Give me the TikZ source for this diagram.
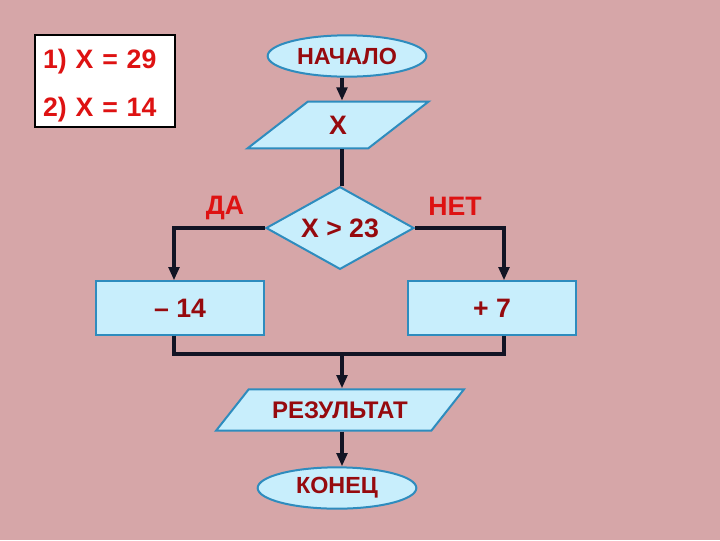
\documentclass[tikz,border=0pt]{standalone}
\usepackage{fontspec}
\setmainfont{Liberation Sans}
\usepackage{xcolor}
\usetikzlibrary{shapes.geometric, positioning, arrows.meta}
\definecolor{bgpink}{RGB}{214, 166, 168}
\definecolor{cellfill}{RGB}{200, 238, 252}
\definecolor{cellblue}{RGB}{46, 140, 190}
\definecolor{darkred}{RGB}{150, 10, 14}
\definecolor{brightred}{RGB}{222, 18, 18}
\definecolor{linedark}{RGB}{18, 20, 36}
\newcommand{\flowfont}[1]{\fontsize{#1}{#1}\selectfont\bfseries}

\begin{document}
\begin{tikzpicture}[x=0.75pt, y=-0.75pt,
    cell/.style={draw=cellblue, fill=cellfill, line width=1.5pt, text=darkred, inner sep=0pt},
    terminal/.style={cell, ellipse, minimum width=119pt, minimum height=31pt, font=\flowfont{17.5}},
    inout/.style={cell, trapezium, trapezium stretches=true},
    process/.style={cell, rectangle, minimum width=126pt, minimum height=40pt, font=\flowfont{20}},
    decision/.style={cell, diamond, aspect=1.78, minimum width=111pt, minimum height=62pt, font=\flowfont{20}},
    answer/.style={text=brightred, font=\flowfont{20}},
    link/.style={draw=linedark, line width=2.5pt},
    flow/.style={link, -{Triangle[length=10pt,width=8pt]}}]
    \fill[bgpink] (0,0) rectangle (720,540);
    \node[draw=black, fill=white, line width=1.5pt, text=brightred, align=left,
          text width=93pt, inner xsep=6pt, minimum height=69pt,
          font=\fontsize{20}{36}\selectfont\bfseries] (cases) at (105,81)
          {\rule{0pt}{22pt}1) X = 29\\2) X = 14};
    \node[terminal] (start) at (347,56) {НАЧАЛО};
    \node[inout, trapezium left angle=46, trapezium right angle=134,
          minimum width=136pt, minimum height=35pt, font=\flowfont{20}] (input) at (338,125) {X};
    \node[decision] (test) at (340,228) {X > 23};
    \node[process] (minus) at (180,308) {– 14};
    \node[process] (plus) at (492,308) {+ 7};
    \node[inout, trapezium left angle=35, trapezium right angle=145,
          minimum width=186pt, minimum height=31pt, font=\flowfont{18}] (result) at (340,410) {РЕЗУЛЬТАТ};
    \node[terminal] (stop) at (337,488) {КОНЕЦ};
    \node[answer] (yes) at (225,208) {ДА};
    \node[answer] (no) at (455,206) {НЕТ};
    \coordinate (jl) at (174,354);
    \coordinate (jm) at (342,354);
    \coordinate (jr) at (504,354);
    \draw[flow] (start.south -| jm) -- (input.north -| jm);
    \draw[link] (input.south -| jm) -- (test.north -| jm);
    \draw[flow] (test.west) -| (minus.north -| jl);
    \draw[flow] (test.east) -| (plus.north -| jr);
    \draw[link] (minus.south -| jl) |- (jr) -- (plus.south -| jr);
    \draw[flow] (jm) -- (result.north -| jm);
    \draw[flow] (result.south -| jm) -- (stop.north -| jm);
\end{tikzpicture}
\end{document}
